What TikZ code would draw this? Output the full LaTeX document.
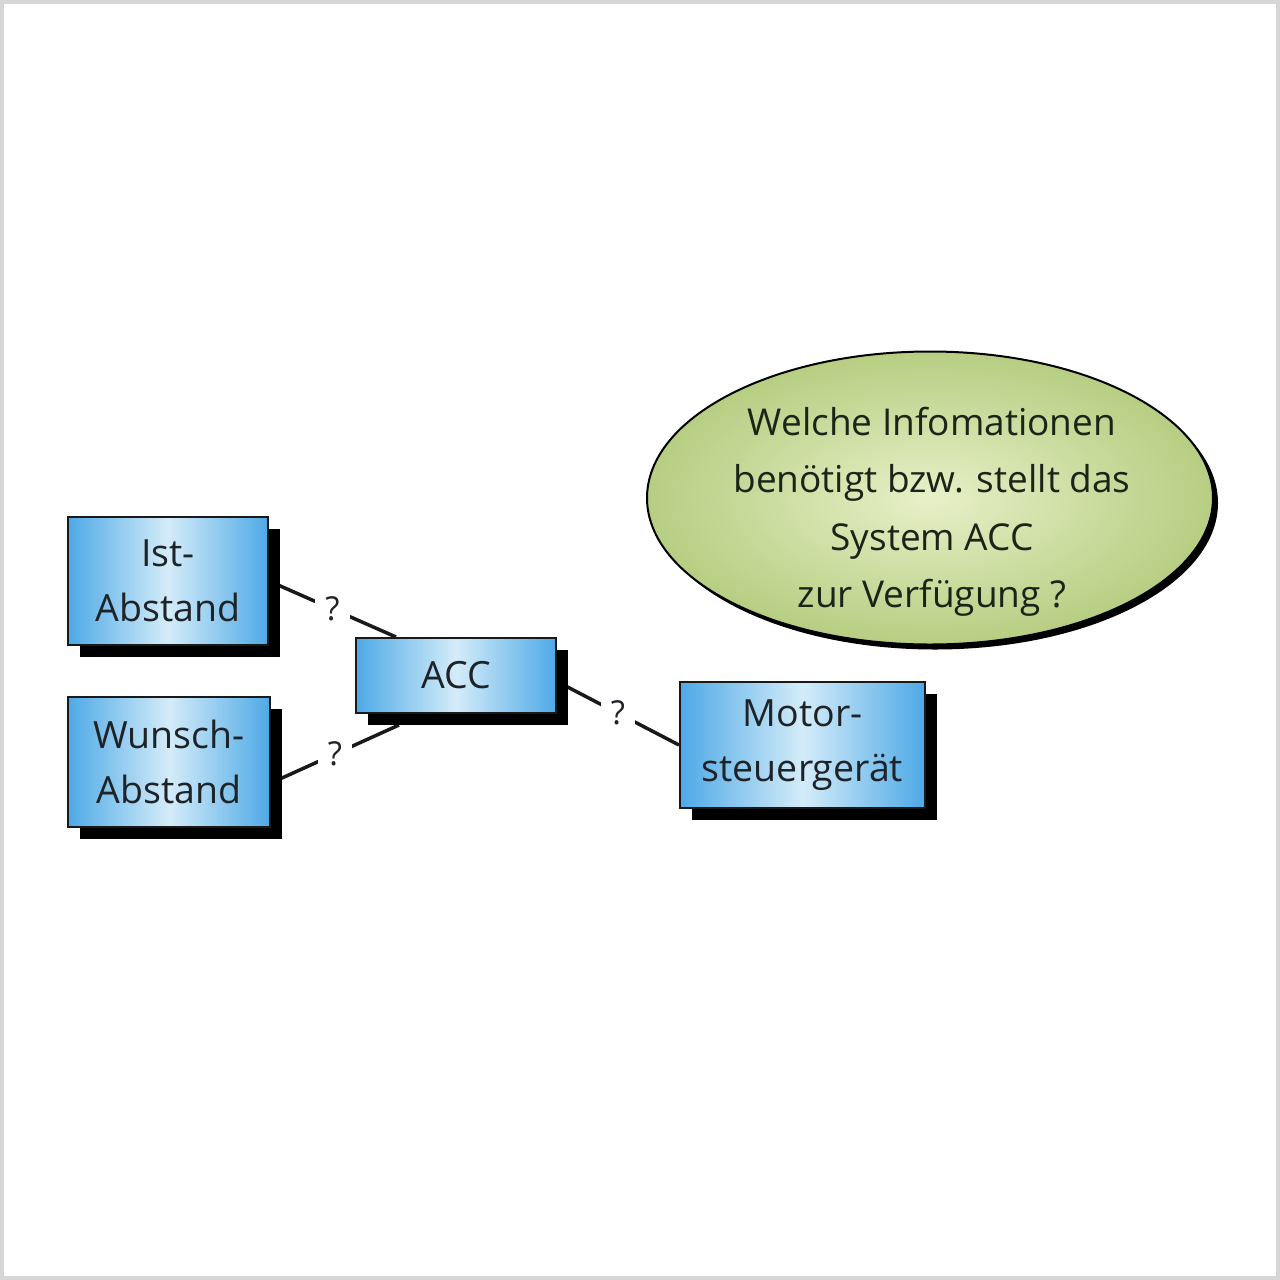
\documentclass[tikz,border=0pt]{standalone}
\usepackage{fontspec}
\setmainfont{Open Sans}
\usetikzlibrary{shadows,backgrounds,shapes.geometric,calc}
\definecolor{boxedge}{HTML}{4EA9E6}
\definecolor{boxmid}{HTML}{D4ECF9}
\definecolor{elledge}{HTML}{B6CE82}
\definecolor{ellmid}{HTML}{E8F0C8}
\definecolor{frame}{HTML}{D6D6D6}
\definecolor{ink}{HTML}{1E2328}
\definecolor{inkg}{HTML}{1C2418}
\begin{document}
\begin{tikzpicture}[x=1pt,y=-1pt,
  blockbox/.style={draw=black!90, line width=2pt, left color=boxedge, right color=boxedge, middle color=boxmid,
    align=center, font=\fontsize{37.5}{55}\selectfont, text=ink, inner sep=0pt,
    drop shadow={shadow xshift=12pt, shadow yshift=-12pt, fill=black, opacity=1}},
  link/.style={line width=3.5pt, black!90},
  qmark/.style={fill=white, font=\fontsize{33}{40}\selectfont, text=ink, inner xsep=10pt, inner ysep=2pt}
]
\useasboundingbox (0,0) rectangle (1280,1280);
\draw[frame, line width=4pt] (2,2) rectangle (1278,1278);

\node[blockbox, minimum width=200pt, minimum height=128pt] (ist) at (168,581) {Ist-\\Abstand};
\node[blockbox, minimum width=202pt, minimum height=130pt] (wunsch) at (169,762) {Wunsch-\\Abstand};
\node[blockbox, minimum width=200pt, minimum height=75pt] (acc) at (456,675.5) {ACC};
\node[blockbox, minimum width=245pt, minimum height=126pt] (motor) at (802.5,745) {Motor-\\steuergerät};

\node[ellipse, draw=black, line width=2pt, minimum width=566pt, minimum height=293pt,
  shading=radial, inner color=ellmid, outer color=elledge,
  drop shadow={shadow xshift=5pt, shadow yshift=-5pt, fill=black, opacity=1}] (q) at (930,498) {};
\node[align=center, font=\fontsize{37}{57.5}\selectfont, text=inkg] (qtext) at ([xshift=2pt, yshift=-14pt]q.center)
  {Welche Infomationen\\benötigt bzw. stellt das\\System ACC\\zur Verfügung ?};

\begin{scope}[on background layer]
\draw[link] (ist.east) -- node[qmark]{?} ([xshift=41pt]acc.north west);
\draw[link] ([yshift=-21pt]wunsch.east) -- node[qmark]{?} ([xshift=44pt, yshift=-11pt]acc.south west);
\draw[link] ([yshift=-6pt]acc.east) -- node[qmark]{?} (motor.west);
\end{scope}
\end{tikzpicture}
\end{document}
